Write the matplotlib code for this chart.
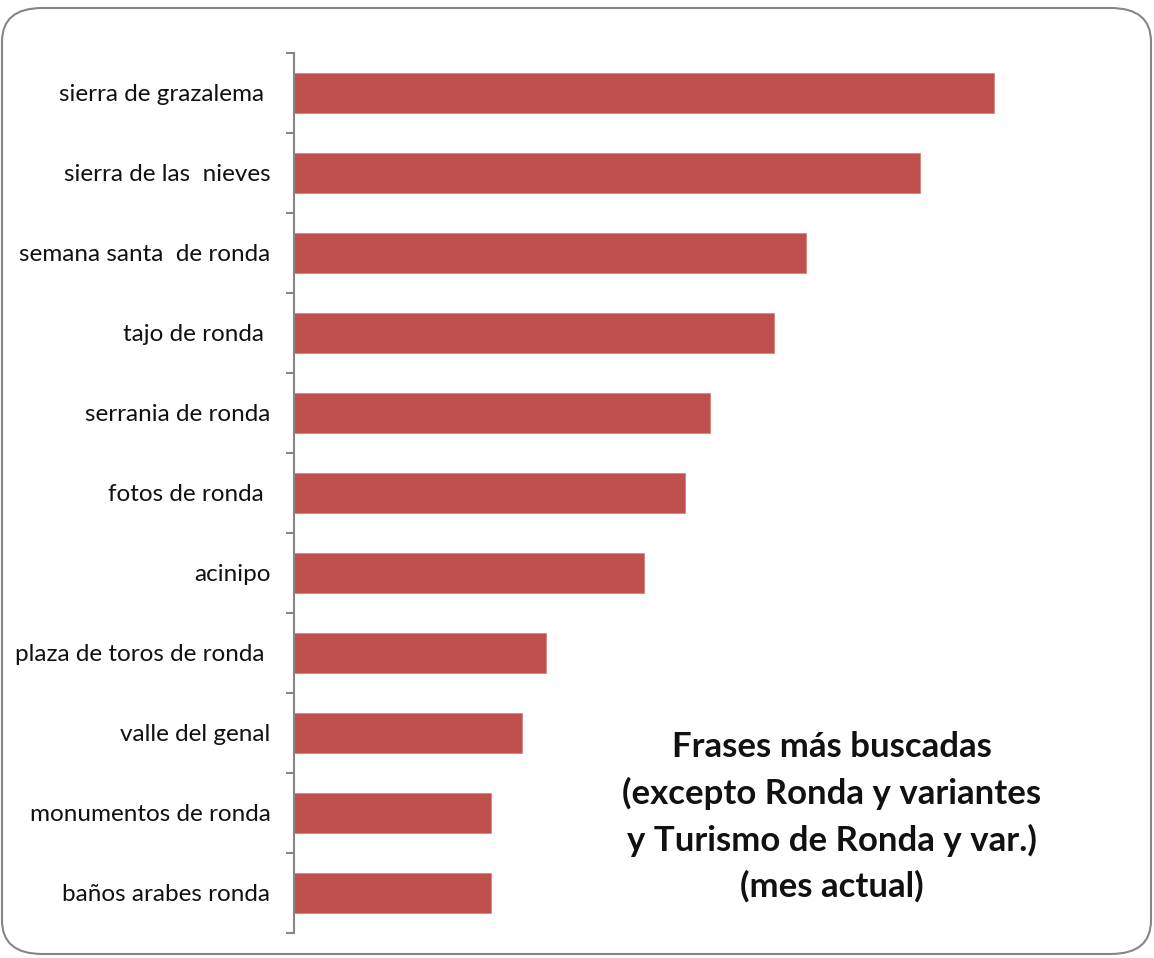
import matplotlib
matplotlib.use("Agg")
import matplotlib.pyplot as plt
from matplotlib.patches import FancyBboxPatch
import numpy as np

plt.rcParams['font.family'] = ['Lato', 'DejaVu Sans']

frases = ["sierra de grazalema ", "sierra de las  nieves", "semana santa  de ronda",
          "tajo de ronda ", "serrania de ronda", "fotos de ronda ", "acinipo",
          "plaza de toros de ronda ", "valle del genal", "monumentos de ronda",
          "baños arabes ronda"]
busquedas = [700, 626, 512, 480, 416, 391, 350, 252, 228, 197, 197]
titulo = "Frases más buscadas\n(excepto Ronda y variantes\ny Turismo de Ronda y var.)\n(mes actual)"

W, H = 1154, 958
fig = plt.figure(figsize=(W / 100, H / 100), dpi=100)

# marco redondeado
marco = FancyBboxPatch((2 / W, 4 / H), 1 - 5 / W, 1 - 12 / H,
                       boxstyle="round,pad=0,rounding_size=0.035",
                       transform=fig.transFigure, facecolor="none",
                       edgecolor="#868686", linewidth=1.5, zorder=-1)
fig.patches.append(marco)

ax = fig.add_axes([294 / W, 25 / H, (1100 - 294) / W, (933 - 52.7) / H])
ax.set_facecolor("none")

y = np.arange(len(frases))
ax.barh(y, busquedas, height=0.5, color="#C0504D", edgecolor="#D9827F", linewidth=0.6)
ax.set_ylim(len(frases) - 0.5, -0.5)
ax.set_xlim(0, 806)

ax.set_yticks(y)
ax.set_yticklabels(frases, fontsize=17.5, color="#111111")
ax.set_yticks(np.arange(-0.5, len(frases)), minor=True)
ax.tick_params(axis="y", which="major", length=0, pad=17)
ax.tick_params(axis="y", which="minor", length=6, width=1.5, color="#868686", direction="out")
ax.set_xticks([])

for s in ["top", "right", "bottom"]:
    ax.spines[s].set_visible(False)
ax.spines["left"].set_color("#868686")
ax.spines["left"].set_linewidth(1.5)

fig.text(832 / W, 1 - 817 / H, titulo, ha="center", va="center",
         fontsize=25, fontweight="bold", color="#111111", linespacing=1.5)

fig.savefig("out.png", dpi=100)
